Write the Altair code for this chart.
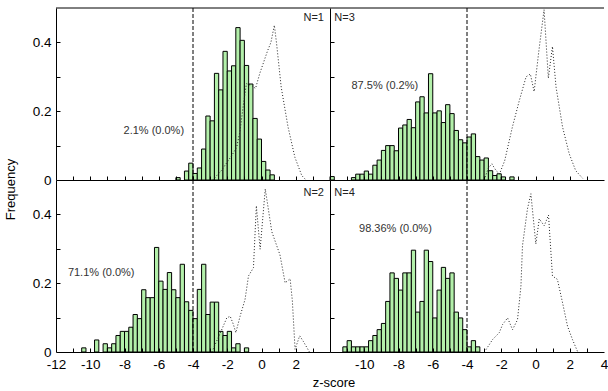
import altair as alt
import pandas as pd

# ---------------- data ----------------
BIN_WIDTH = 0.25

# N=1 panel (top-left): histogram bin left edges and frequencies
n1_bins = [-5.0, -4.5, -4.25, -4.0, -3.75, -3.5, -3.25, -3.0, -2.75, -2.5, -2.25,
           -2.0, -1.75, -1.5, -1.25, -1.0, -0.75, -0.5, -0.25, 0.0, 0.25, 0.5]
n1_freq = [0.007, 0.026, 0.049, 0.019, 0.035, 0.090, 0.186, 0.172, 0.310, 0.262, 0.374,
           0.317, 0.332, 0.443, 0.406, 0.333, 0.279, 0.179, 0.119, 0.054, 0.029, 0.015]
# N=1 null distribution (dotted)
n1_null_z = [-2.85, -2.35, -1.75, -1.45, -1.25, -1.05, -0.88, -0.55, -0.35, -0.1,
             0.35, 0.55, 0.75, 0.88, 1.15, 1.55, 1.95, 2.35, 2.6]
n1_null_f = [0.0, 0.027, 0.07, 0.095, 0.144, 0.222, 0.28, 0.274, 0.266, 0.31,
             0.375, 0.40, 0.45, 0.397, 0.27, 0.154, 0.066, 0.013, 0.0]

# N=3 panel (top-right)
n3_bins = [-12.0, -10.75, -10.5, -10.25, -10.0, -9.75, -9.5, -9.25, -9.0, -8.75, -8.5,
           -8.25, -8.0, -7.75, -7.5, -7.25, -7.0, -6.75, -6.5, -6.25, -6.0, -5.75,
           -5.5, -5.25, -5.0, -4.75, -4.5, -4.25, -4.0, -3.75, -3.5, -3.25, -3.0,
           -2.75, -2.5, -2.25, -2.0, -1.5]
n3_freq = [0.010, 0.007, 0.017, 0.017, 0.026, 0.017, 0.043, 0.058, 0.086, 0.100, 0.100,
           0.085, 0.151, 0.160, 0.176, 0.152, 0.227, 0.242, 0.195, 0.309, 0.195, 0.201,
           0.167, 0.219, 0.193, 0.144, 0.117, 0.108, 0.125, 0.134, 0.068, 0.058, 0.064,
           0.027, 0.013, 0.018, 0.009, 0.009]
n3_null_z = [-3.0, -2.75, -2.55, -2.3, -2.1, -1.8, -1.35, -0.95, -0.55, -0.3, -0.08,
             0.2, 0.5, 0.75, 0.99, 1.2, 1.58, 1.97, 2.35, 2.75]
n3_null_f = [0.0, 0.035, 0.047, 0.027, 0.018, 0.056, 0.154, 0.23, 0.30, 0.308, 0.257,
             0.377, 0.495, 0.296, 0.388, 0.27, 0.154, 0.076, 0.027, 0.005]

# N=2 panel (bottom-left)
n2_bins = [-10.5, -9.75, -9.25, -9.0, -8.75, -8.5, -8.25, -8.0, -7.75, -7.5, -7.25,
           -7.0, -6.75, -6.5, -6.25, -6.0, -5.75, -5.5, -5.25, -5.0, -4.75, -4.5,
           -4.25, -4.0, -3.75, -3.5, -3.25, -3.0, -2.75, -2.5, -2.25, -2.0, -1.75,
           -1.5, -1.0]
n2_freq = [0.012, 0.035, 0.024, 0.012, 0.024, 0.048, 0.060, 0.060, 0.072, 0.109, 0.097,
           0.181, 0.158, 0.158, 0.304, 0.206, 0.182, 0.231, 0.181, 0.158, 0.255, 0.146,
           0.121, 0.097, 0.182, 0.255, 0.109, 0.145, 0.145, 0.060, 0.048, 0.060, 0.012,
           0.024, 0.012]
n2_null_z = [-2.9, -2.4, -2.03, -1.83, -1.64, -1.5, -1.25, -0.96, -0.76, -0.47, -0.3,
             -0.08, 0.22, 0.6, 1.08, 1.38, 1.67, 1.8, 1.96, 2.23, 2.44, 2.8]
n2_null_f = [0.0, 0.056, 0.099, 0.104, 0.08, 0.056, 0.104, 0.153, 0.221, 0.245, 0.425,
             0.299, 0.474, 0.35, 0.282, 0.201, 0.213, 0.15, 0.008, 0.047, 0.031, 0.0]

# N=4 panel (bottom-right)
n4_bins = [-11.25, -11.0, -10.75, -10.5, -10.25, -10.0, -9.75, -9.5, -9.25, -9.0, -8.75,
           -8.5, -8.25, -8.0, -7.75, -7.5, -7.25, -7.0, -6.75, -6.5, -6.25, -6.0,
           -5.75, -5.5, -5.25, -5.0, -4.75, -4.5, -4.25, -4.0, -3.75, -3.5]
n4_freq = [0.015, 0.033, 0.015, 0.015, 0.015, 0.015, 0.033, 0.048, 0.065, 0.083, 0.147,
           0.230, 0.214, 0.180, 0.230, 0.230, 0.296, 0.116, 0.147, 0.296, 0.263, 0.099,
           0.180, 0.246, 0.214, 0.230, 0.116, 0.099, 0.065, 0.015, 0.033, 0.015]
n4_null_z = [-2.89, -2.51, -2.12, -1.92, -1.63, -1.34, -1.05, -0.85, -0.76, -0.47, -0.27,
             0.02, 0.22, 0.51, 0.76, 0.99, 1.28, 1.58, 1.87, 2.16, 2.45]
n4_null_f = [0.007, 0.036, 0.056, 0.08, 0.099, 0.065, 0.094, 0.192, 0.309, 0.416, 0.46,
             0.314, 0.387, 0.367, 0.398, 0.221, 0.211, 0.143, 0.075, 0.036, 0.002]

# threshold and annotations
threshold = [-4.0]
tags = ["N=1", "N=3", "N=2", "N=4"]
notes = ["2.1% (0.0%)", "87.5% (0.2%)", "71.1% (0.0%)", "98.36% (0.0%)"]
note_z = [-6.29, -8.8, -9.36, -8.18]
note_f = [0.142, 0.272, 0.231, 0.357]
tag_z = [3.65, -11.75, 3.65, -11.75]
tag_f = [0.47, 0.47, 0.463, 0.463]

x_labels_left = [-12, -10, -8, -6, -4, -2, 0, 2]
x_labels_right = [-10, -8, -6, -4, -2, 0, 2, 4]
x_minor = list(range(-11, 4))
y_labels = [0, 0.2, 0.4]
y_minor = [0.1, 0.2, 0.3, 0.4]

# ---------------- styling ----------------
W, H = 274, 172
FONT = "Liberation Sans"
FILL = "#b3f0aa"
XS = alt.Scale(domain=[-12, 4], nice=False, zero=False)
YS = alt.Scale(domain=[0, 0.5], nice=False, zero=False)


def make_panel(idx, bins, freq, nz, nf, left, bottom):
    hist = pd.DataFrame({"z": bins, "f": freq})
    curve = pd.DataFrame({"z": nz, "f": nf, "i": list(range(len(nz)))})

    bars = alt.Chart(hist).transform_calculate(
        z2=f"datum.z + {BIN_WIDTH}", f0="0"
    ).mark_rect(fill=FILL, stroke="black", strokeWidth=1).encode(
        x=alt.X("z:Q", scale=XS, axis=alt.Axis(
            orient="bottom", values=x_labels_left if left else x_labels_right,
            labels=bottom, ticks=False, tickSize=0, domain=True, grid=False,
            title=None, labelFlush=False, labelPadding=5, zindex=1,
            labelExpr="'' + datum.value")),
        x2="z2:Q",
        y=alt.Y("f:Q", scale=YS, axis=alt.Axis(
            orient="left", values=y_labels, labels=left, ticks=False, tickSize=0,
            domain=True, grid=False, title=None, labelPadding=5, zindex=1,
            labelExpr="datum.value == 0 ? '0' : format(datum.value, '.1f')")),
        y2="f0:Q",
    )

    line = alt.Chart(curve).mark_line(
        color="#222", strokeWidth=1, strokeDash=[1, 2], clip=True
    ).encode(
        x=alt.X("z:Q", scale=XS, axis=alt.Axis(
            orient="top", offset=-H, values=x_minor, labels=False, ticks=True,
            tickSize=4, domain=False, grid=False, title=None, zindex=1)),
        y=alt.Y("f:Q", scale=YS, axis=alt.Axis(
            orient="right", offset=-W, values=y_minor, labels=False, ticks=True,
            tickSize=4, domain=False, grid=False, title=None, zindex=1)),
        order="i:Q",
    )

    rule = alt.Chart(pd.DataFrame({"z": threshold})).mark_rule(
        color="black", strokeWidth=1, strokeDash=[4, 2]
    ).encode(x=alt.X("z:Q", scale=XS, axis=None))

    note = alt.Chart(pd.DataFrame({"z": [note_z[idx]], "f": [note_f[idx]], "t": [notes[idx]]})).mark_text(
        font=FONT, fontSize=11, color="#333", align="center", baseline="middle"
    ).encode(x=alt.X("z:Q", scale=XS, axis=None), y=alt.Y("f:Q", scale=YS, axis=None), text="t:N")

    tag = alt.Chart(pd.DataFrame({"z": [tag_z[idx]], "f": [tag_f[idx]], "t": [tags[idx]]})).mark_text(
        font=FONT, fontSize=11, color="#222", align="right" if left else "left", baseline="middle"
    ).encode(x=alt.X("z:Q", scale=XS, axis=None), y=alt.Y("f:Q", scale=YS, axis=None), text="t:N")

    layers = [bars, line, rule, note, tag]
    if not bottom:
        top = alt.Chart(pd.DataFrame({"f": [0.5]})).mark_rule(color="black", strokeWidth=1).encode(
            y=alt.Y("f:Q", scale=YS, axis=None))
        layers.append(top)

    return alt.layer(*layers).resolve_axis(x="independent", y="independent").properties(width=W, height=H)


p1 = make_panel(0, n1_bins, n1_freq, n1_null_z, n1_null_f, left=True, bottom=False)
p3 = make_panel(1, n3_bins, n3_freq, n3_null_z, n3_null_f, left=False, bottom=False)
p2 = make_panel(2, n2_bins, n2_freq, n2_null_z, n2_null_f, left=True, bottom=True)
p4 = make_panel(3, n4_bins, n4_freq, n4_null_z, n4_null_f, left=False, bottom=True)

grid = alt.concat(p1, p3, p2, p4, columns=2, spacing=0, bounds="flush").properties(
    title=alt.TitleParams("z-score", orient="bottom", anchor="middle", font=FONT,
                          fontSize=13, fontWeight="normal", color="black", offset=6, dx=14)
)

chart = alt.vconcat(grid, spacing=0).properties(
    title=alt.TitleParams("Frequency", orient="left", anchor="middle", font=FONT,
                          fontSize=13, fontWeight="normal", color="black", offset=14, dx=9),
    padding={"left": 5, "top": 7, "right": 0, "bottom": 0},
).configure_view(stroke=None).configure_axis(
    labelFont=FONT, labelFontSize=13.5, labelColor="black",
    domainColor="black", tickColor="black", domainWidth=1, tickWidth=1,
)

chart.save("out.html", embed_options={"renderer": "svg", "actions": False})
